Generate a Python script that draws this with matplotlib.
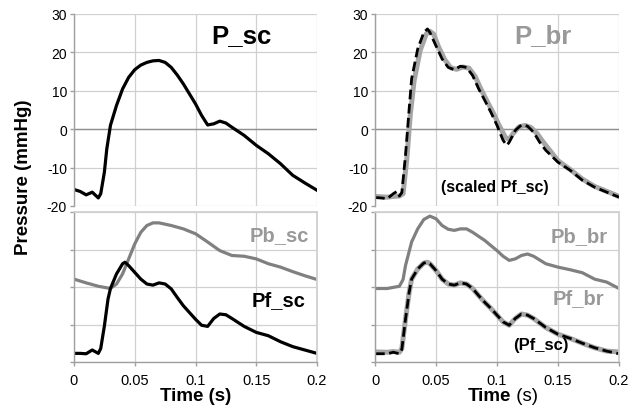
import matplotlib.pyplot as plt

plt.rcParams['font.family'] = ['Liberation Sans', 'DejaVu Sans']
plt.rcParams['axes.unicode_minus'] = False

# P_sc (mmHg)
t_psc = [0, 0.005, 0.01, 0.015, 0.02, 0.022, 0.025, 0.027, 0.03, 0.035, 0.04, 0.045, 0.05, 0.055,
         0.06, 0.065, 0.07, 0.075, 0.08, 0.085, 0.09, 0.095, 0.1, 0.105, 0.11, 0.115, 0.12, 0.125,
         0.13, 0.14, 0.15, 0.16, 0.17, 0.18, 0.19, 0.2]
p_sc = [-15.7, -16.2, -17.1, -16.4, -17.9, -16.8, -11.2, -5.1, 1.0, 6.2, 10.5, 13.5, 15.5, 16.7,
        17.4, 17.8, 17.9, 17.4, 16.1, 14.1, 11.8, 9.2, 6.6, 3.6, 1.1, 1.4, 2.1, 1.6,
        0.5, -1.6, -4.2, -6.4, -9.0, -12.0, -14.0, -15.9]

# P_br measured and scaled Pf_sc (mmHg)
t_pbr = [0, 0.005, 0.01, 0.015, 0.02, 0.023, 0.026, 0.029, 0.032, 0.037, 0.042, 0.045, 0.048,
         0.052, 0.057, 0.062, 0.067, 0.072, 0.077, 0.082, 0.087, 0.092, 0.097, 0.102, 0.107, 0.11,
         0.113, 0.118, 0.123, 0.128, 0.133, 0.138, 0.143, 0.15, 0.16, 0.17, 0.18, 0.19, 0.2]
p_br = [-17.5, -17.6, -17.7, -17.5, -17.4, -16.8, -8.0, 4.0, 12.5, 20.5, 24.8, 25.5, 24.8,
        21.5, 18.2, 16.0, 15.6, 16.2, 15.9, 13.8, 10.3, 7.2, 4.2, 0.8, -2.2, -2.6,
        -1.2, 0.6, 1.0, 0.4, -1.2, -3.4, -5.4, -8.2, -10.5, -13.0, -14.9, -16.2, -17.5]

t_scaled = [0, 0.005, 0.01, 0.015, 0.018, 0.02, 0.022, 0.025, 0.028, 0.03, 0.035, 0.04, 0.043,
            0.045, 0.05, 0.055, 0.06, 0.065, 0.07, 0.075, 0.08, 0.085, 0.09, 0.095, 0.1, 0.105,
            0.108, 0.11, 0.115, 0.12, 0.125, 0.13, 0.135, 0.14, 0.15, 0.16, 0.17, 0.18, 0.19, 0.2]
p_scaled = [-17.8, -17.9, -18.1, -16.8, -16.2, -17.4, -16.5, -6.8, 5.3, 13.1, 20.9, 25.2, 26.1,
            25.2, 21.7, 18.3, 16.1, 15.5, 16.4, 16.1, 14.0, 10.5, 7.5, 4.4, 1.0, -2.9,
            -4.2, -3.4, -0.3, 1.1, 0.8, -0.8, -3.4, -5.5, -8.6, -10.7, -13.3, -15.1, -16.4, -17.7]

# wave separation, arbitrary units
t_sep = [0, 0.005, 0.01, 0.015, 0.02, 0.022, 0.025, 0.028, 0.03, 0.035, 0.04, 0.042, 0.045, 0.05,
         0.055, 0.06, 0.065, 0.07, 0.075, 0.08, 0.085, 0.09, 0.095, 0.1, 0.105, 0.11, 0.115, 0.12,
         0.125, 0.13, 0.14, 0.15, 0.16, 0.17, 0.18, 0.19, 0.2]
pf_sc = [0.23, 0.23, 0.22, 0.32, 0.23, 0.36, 0.96, 1.68, 1.96, 2.35, 2.62, 2.66, 2.57, 2.39,
         2.21, 2.08, 2.05, 2.11, 2.08, 1.95, 1.72, 1.50, 1.32, 1.14, 0.98, 0.95, 1.16, 1.28,
         1.26, 1.16, 0.95, 0.79, 0.70, 0.54, 0.41, 0.32, 0.23]

t_pb = [0, 0.01, 0.02, 0.03, 0.035, 0.04, 0.045, 0.05, 0.055, 0.06, 0.065, 0.07, 0.08, 0.09,
        0.1, 0.11, 0.12, 0.13, 0.14, 0.15, 0.16, 0.17, 0.18, 0.19, 0.2]
pb_sc = [2.21, 2.11, 2.02, 1.96, 2.08, 2.35, 2.75, 3.15, 3.46, 3.64, 3.71, 3.71, 3.64, 3.55,
         3.42, 3.20, 2.97, 2.84, 2.82, 2.75, 2.62, 2.53, 2.41, 2.30, 2.20]

t_pbb = [0, 0.01, 0.02, 0.023, 0.025, 0.03, 0.035, 0.04, 0.045, 0.05, 0.055, 0.06, 0.065, 0.07,
         0.075, 0.08, 0.09, 0.1, 0.105, 0.11, 0.115, 0.12, 0.125, 0.13, 0.14, 0.15, 0.16, 0.17,
         0.18, 0.19, 0.2]
pb_br = [1.96, 1.96, 2.02, 2.2, 2.57, 3.2, 3.55, 3.80, 3.89, 3.82, 3.64, 3.54, 3.51, 3.55,
         3.55, 3.46, 3.24, 2.97, 2.82, 2.71, 2.75, 2.84, 2.88, 2.82, 2.62, 2.53, 2.46, 2.38,
         2.21, 2.13, 1.96]

t_pf = [0, 0.01, 0.015, 0.02, 0.022, 0.025, 0.028, 0.03, 0.035, 0.04, 0.043, 0.045, 0.05, 0.055,
        0.06, 0.065, 0.07, 0.075, 0.08, 0.085, 0.09, 0.095, 0.1, 0.105, 0.11, 0.115, 0.12, 0.125,
        0.13, 0.14, 0.15, 0.16, 0.17, 0.18, 0.19, 0.2]
pf_br = [0.27, 0.26, 0.28, 0.26, 0.36, 1.14, 1.86, 2.21, 2.48, 2.64, 2.66, 2.62, 2.44, 2.21,
         2.08, 2.05, 2.11, 2.08, 1.96, 1.77, 1.59, 1.43, 1.25, 1.07, 0.98, 1.16, 1.28, 1.25,
         1.16, 0.92, 0.74, 0.63, 0.50, 0.38, 0.29, 0.27]
pf_sc_b = [0.22, 0.22, 0.26, 0.22, 0.34, 1.14, 1.86, 2.21, 2.48, 2.64, 2.66, 2.62, 2.44, 2.21,
           2.08, 2.05, 2.11, 2.08, 1.96, 1.77, 1.59, 1.43, 1.25, 1.07, 0.98, 1.16, 1.28, 1.25,
           1.16, 0.92, 0.74, 0.63, 0.50, 0.38, 0.29, 0.22]

x_ticks = [0, 0.05, 0.1, 0.15, 0.2]
x_labels = ['0', '0.05', '0.1', '0.15', '0.2']
p_ticks = [-20, -10, 0, 10, 20, 30]

W, H = 639, 410
fig = plt.figure(figsize=(W / 100, H / 100), dpi=100)


def box(l, t, r, b):
    return [l / W, 1 - b / H, (r - l) / W, (b - t) / H]


ax_tl = fig.add_axes(box(74, 15, 317, 207))
ax_tr = fig.add_axes(box(375, 15, 619, 207))
ax_bl = fig.add_axes(box(74, 213, 317, 363))
ax_br = fig.add_axes(box(375, 213, 619, 363))

grid_c = '#d0d0d0'
spine_c = '#a0a0a0'

for ax in [ax_tl, ax_tr, ax_bl, ax_br]:
    ax.set_facecolor('white')
    ax.set_xlim(0, 0.2)
    ax.set_xticks(x_ticks)
    ax.grid(True, color=grid_c, lw=0.9)
    ax.set_axisbelow(True)
    for s in ['top', 'right']:
        ax.spines[s].set_visible(False)
    for s in ['left', 'bottom']:
        ax.spines[s].set_color(spine_c)
        ax.spines[s].set_linewidth(1.0)
    ax.tick_params(color=spine_c, length=3, width=1, labelsize=10, pad=2)

for ax in [ax_tl, ax_tr]:
    ax.set_ylim(-20, 30)
    ax.set_yticks(p_ticks)
    ax.set_xticklabels([])
    ax.tick_params(axis='x', length=0)
    ax.spines['bottom'].set_visible(False)
    ax.axhline(0, color='#909090', lw=1.0, zorder=1)

for ax in [ax_bl, ax_br]:
    ax.set_ylim(0, 4)
    ax.set_yticks([0, 1, 2, 3, 4])
    ax.set_yticklabels([])
    ax.set_xticklabels(x_labels)
    ax.tick_params(axis='x', labelsize=10.5, pad=5)
    for s in ['top', 'right']:
        ax.spines[s].set_visible(True)
        ax.spines[s].set_color(grid_c)
        ax.spines[s].set_linewidth(1.3)

dash = (0, (3.5, 1.6))

# top left
ax_tl.plot(t_psc, p_sc, color='black', lw=2.3)
ax_tl.text(0.138, 22.7, 'P_sc', fontsize=18.5, fontweight='bold', color='black', ha='center', va='baseline')

# top right
ax_tr.plot(t_pbr, p_br, color='#a6a6a6', lw=3.6)
ax_tr.plot(t_scaled, p_scaled, color='black', lw=2.0, ls=dash)
ax_tr.text(0.138, 22.7, 'P_br', fontsize=18.5, fontweight='bold', color='#999999', ha='center', va='baseline')
ax_tr.text(0.0984, -16.1, '(scaled Pf_sc)', fontsize=11.5, fontweight='bold', color='black',
           ha='center', va='baseline')

# bottom left
ax_bl.plot(t_pb, pb_sc, color='#808080', lw=2.3)
ax_bl.plot(t_sep, pf_sc, color='black', lw=2.3)
ax_bl.text(0.1687, 3.26, 'Pb_sc', fontsize=14.5, fontweight='bold', color='#999999', ha='center', va='baseline')
ax_bl.text(0.1683, 1.52, 'Pf_sc', fontsize=14.5, fontweight='bold', color='black', ha='center', va='baseline')

# bottom right
ax_br.plot(t_pbb, pb_br, color='#808080', lw=2.3)
ax_br.plot(t_pf, pf_br, color='#a6a6a6', lw=3.6)
ax_br.plot(t_pf, pf_sc_b, color='black', lw=2.0, ls=dash)
ax_br.text(0.1676, 3.23, 'Pb_br', fontsize=14.5, fontweight='bold', color='#999999', ha='center', va='baseline')
ax_br.text(0.1664, 1.57, 'Pf_br', fontsize=14.5, fontweight='bold', color='#999999', ha='center', va='baseline')
ax_br.text(0.1357, 0.35, '(Pf_sc)', fontsize=12, fontweight='bold', color='black', ha='center', va='baseline')

fig.text(24 / W, 1 - 177 / H, 'Pressure (mmHg)', rotation=90, fontsize=13.5, fontweight='bold',
         ha='center', va='center')
fig.text(196 / W, 1 - 397 / H, 'Time (s)', fontsize=13.5, fontweight='bold', ha='center', va='center')
fig.text(511 / W, 1 - 397 / H, 'Time', fontsize=13.5, fontweight='bold', ha='right', va='center')
fig.text(511 / W, 1 - 397 / H, ' (s)', fontsize=13.5, ha='left', va='center')

fig.savefig('out.png', dpi=100)
